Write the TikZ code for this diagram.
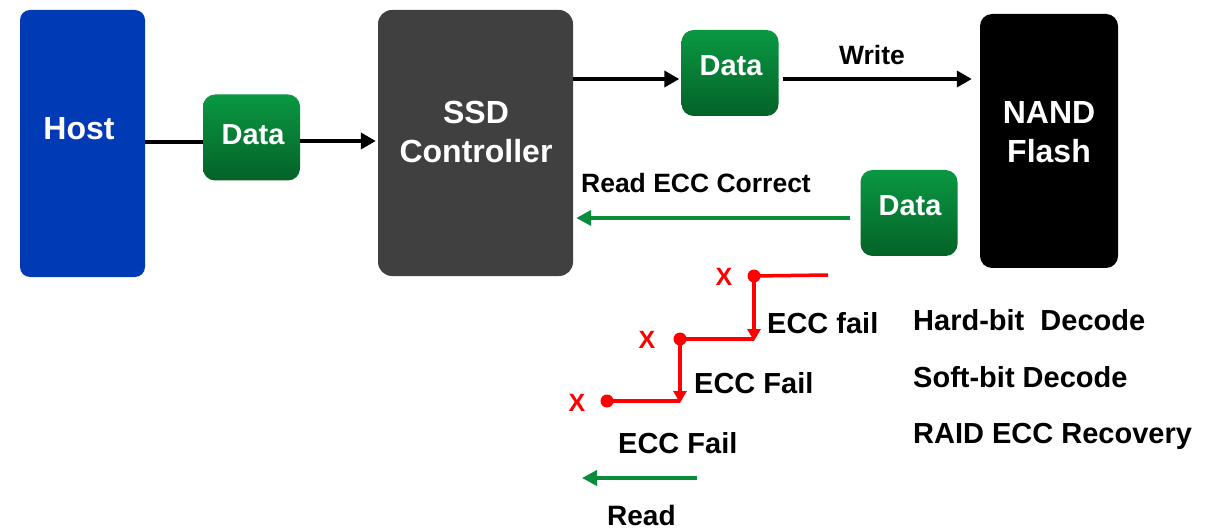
\documentclass[tikz,border=0pt]{standalone}
\usepackage{fontspec}
\setmainfont{Liberation Sans}
\usetikzlibrary{arrows.meta}
\definecolor{hostblue}{RGB}{0,58,180}
\definecolor{ssdgray}{RGB}{64,64,64}
\definecolor{dtop}{RGB}{10,152,66}
\definecolor{dbot}{RGB}{4,98,40}
\definecolor{garrow}{RGB}{10,140,60}
\definecolor{xred}{RGB}{255,0,0}
\tikzset{
 box/.style={rounded corners=10pt, inner sep=0pt},
 databox/.style={box, rounded corners=12pt, top color=dtop, bottom color=dbot, minimum width=97pt, minimum height=86pt},
 wtxt/.style={text=white, font=\bfseries\fontsize{32}{38}\selectfont, inner sep=0pt, anchor=base},
 dtxt/.style={text=white, font=\bfseries\fontsize{29}{34}\selectfont, inner sep=0pt, anchor=base},
 btxt/.style={font=\bfseries\fontsize{29}{34}\selectfont, inner sep=0pt, anchor=base west},
 stxt/.style={font=\bfseries\fontsize{26.5}{32}\selectfont, inner sep=0pt, anchor=base},
 xtxt/.style={text=xred, font=\bfseries\fontsize{25}{30}\selectfont, inner sep=0pt, anchor=base},
 blk/.style={line width=4pt, -{Triangle[length=15pt,width=16pt]}},
 grn/.style={draw=garrow, line width=4pt, -{Triangle[length=15pt,width=15pt]}},
 redline/.style={draw=xred, line width=3.5pt},
 redarr/.style={redline, -{Triangle[length=12pt,width=13pt]}},
 reddot/.style={circle, fill=xred, minimum size=13pt, inner sep=0pt},
}
\begin{document}
\begin{tikzpicture}[x=1pt,y=-1pt]
\useasboundingbox (0,0) rectangle (1220,529);
% boxes
\node[box, fill=hostblue, minimum width=125pt, minimum height=267pt] (host) at (82.5,143.5) {};
\node[databox] (data1) at (251.5,137.5) {};
\node[box, rounded corners=14pt, fill=ssdgray, minimum width=195pt, minimum height=266pt] (ssd) at (475.5,143) {};
\node[databox] (data2) at (730,73) {};
\node[box, rounded corners=12pt, fill=black, minimum width=138pt, minimum height=254pt] (nand) at (1049,141) {};
\node[databox] (data3) at (909,213) {};
% box texts
\node[wtxt] (hostt) at (79,140) {Host};
\node[dtxt] (data1t) at (253,145) {Data};
\node[dtxt] (data2t) at (731,76) {Data};
\node[dtxt] (data3t) at (910,216) {Data};
\node[wtxt] (ssdt1) at (476,124) {SSD};
\node[wtxt] (ssdt2) at (476,163) {Controller};
\node[wtxt] (nandt1) at (1049,124) {NAND};
\node[wtxt] (nandt2) at (1049,163) {Flash};
% labels
\node[stxt] (wlbl) at (872,65) {Write};
\node[stxt] (rlbl) at (696,193) {Read ECC Correct};
% connectors
\draw[line width=4pt] (host.east |- 0,142) -- (data1.west |- 0,142);
\draw[blk, shorten >=2pt] (data1.east |- 0,141) -- (ssd.west |- 0,141);
\draw[blk, shorten >=2pt] (ssd.east |- 0,79) -- (data2.west |- 0,79);
\draw[blk, shorten <=4pt, shorten >=8pt] (data2.east |- 0,79) -- (nand.west |- 0,79);
\draw[grn, shorten <=10pt, shorten >=3pt] (data3.west |- 0,218) -- (ssd.east |- 0,218);
% red retry path
\node[reddot] (d1) at (754,276) {};
\node[reddot] (d2) at (680,339) {};
\node[reddot] (d3) at (607,401) {};
\coordinate (e1) at (828,275);
\coordinate (v1) at (754,339);
\coordinate (v2) at (680,401);
\draw[redline] (d1.center) -- (e1);
\draw[redline] (d2.center) -- (v1);
\draw[redline] (d3.center) -- (v2);
\draw[redarr, shorten >=-2pt] (d1.center) -- (v1);
\draw[redarr, shorten >=-2pt] (d2.center) -- (v2);
\node[xtxt] (x1) at (724,285) {X};
\node[xtxt] (x2) at (647,348) {X};
\node[xtxt] (x3) at (577,411) {X};
\node[btxt] (f1) at (767,333) {ECC fail};
\node[btxt] (f2) at (694,393) {ECC Fail};
\node[btxt] (f3) at (618,453) {ECC Fail};
% read
\coordinate (r1) at (697,478);
\coordinate (r2) at (582,478);
\draw[grn] (r1) -- (r2);
\node[btxt, font=\bfseries\fontsize{28}{34}\selectfont] (readt) at (607,525) {Read};
% right list
\node[btxt] (m1) at (913,330) {Hard-bit\ \ Decode};
\node[btxt] (m2) at (913,387) {Soft-bit Decode};
\node[btxt] (m3) at (913,443) {RAID ECC Recovery};
\end{tikzpicture}
\end{document}
